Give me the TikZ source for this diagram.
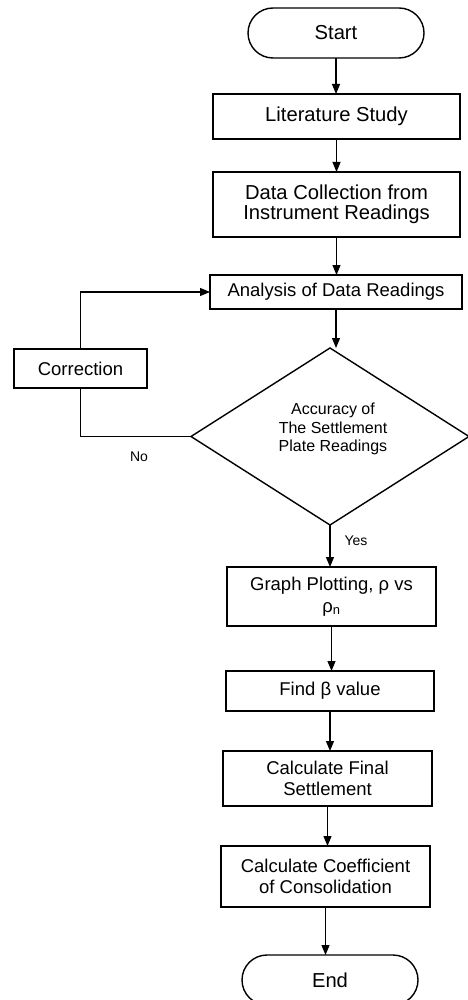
\documentclass[tikz,border=0pt]{standalone}
\usepackage{fontspec}
\setmainfont{Liberation Sans}
\usetikzlibrary{arrows.meta,shapes.geometric}
\begin{document}
\begin{tikzpicture}[x=1pt,y=-1pt,
  every node/.style={inner sep=2pt,outer sep=0pt},
  boxst/.style={draw,line width=1.4pt,rectangle,align=center,
     font=\fontsize{18.5}{21.5}\selectfont},
  bigbox/.style={boxst,font=\fontsize{20.2}{20.5}\selectfont},
  termst/.style={draw,line width=1.4pt,rectangle,rounded corners=25pt,
     minimum width=176pt,minimum height=50pt,
     font=\fontsize{20.2}{21.5}\selectfont},
  decst/.style={draw,line width=1.4pt,diamond,shape aspect=1.57,
     minimum width=278pt,minimum height=177pt},
  lblst/.style={font=\fontsize{14}{16}\selectfont},
  arr/.style={line width=1.1pt,-{Triangle[length=10pt,width=8pt]}},
  ln/.style={line width=1.1pt}
]
\useasboundingbox (0,0) rectangle (467,1000);
\node[termst] (start) at (336,33) {Start};
\node[bigbox,minimum width=247pt,minimum height=45pt] (lit) at (336.5,116.5) {Literature Study};
\node[bigbox,minimum width=247pt,minimum height=65pt] (data) at (336.5,204.5) {Data Collection from\\Instrument Readings};
\node[boxst,minimum width=252pt,minimum height=34pt] (ana) at (336,292) {Analysis of Data Readings};
\node[boxst,minimum width=133pt,minimum height=39pt] (corr) at (80.5,368.5) {Correction};
\node[decst] (dec) at (330,436.5) {};
\node[align=center,font=\fontsize{16}{18.5}\selectfont] (dectext) at (333,429) {Accuracy of\\The Settlement\\Plate Readings};
\node[boxst,minimum width=209pt,minimum height=59pt] (graph) at (331.5,596.5) {Graph Plotting, ρ vs\\ρ\textsubscript{n}};
\node[boxst,minimum width=208pt,minimum height=40pt] (find) at (330,691) {Find β value};
\node[boxst,minimum width=209pt,minimum height=55pt] (final) at (327.5,778.5) {Calculate Final\\Settlement};
\node[boxst,minimum width=209pt,minimum height=61pt] (coeff) at (325.5,876.5) {Calculate Coefficient\\of Consolidation};
\node[termst] (end) at (330,980) {End};
\node[lblst] (no) at (139,457) {No};
\node[lblst] (yes) at (356,541) {Yes};

\draw[arr] (start.south) -- (start.south |- lit.north);
\draw[arr] (lit.south) -- (lit.south |- data.north);
\draw[arr] (data.south) -- (data.south |- ana.north);
\draw[arr] (ana.south) -- (ana.south |- dec.north);
\draw[arr] (dec.south) -- (dec.south |- graph.north);
\draw[arr] (graph.south) -- (graph.south |- find.north);
\draw[arr] (find.south) -- (find.south |- final.north);
\draw[arr] (final.south) -- (final.south |- coeff.north);
\draw[arr] (coeff.south) -- (coeff.south |- end.north);
\draw[ln] (dec.west) -| (corr.south);
\draw[arr] (corr.north) |- (ana.west);
\end{tikzpicture}
\end{document}
